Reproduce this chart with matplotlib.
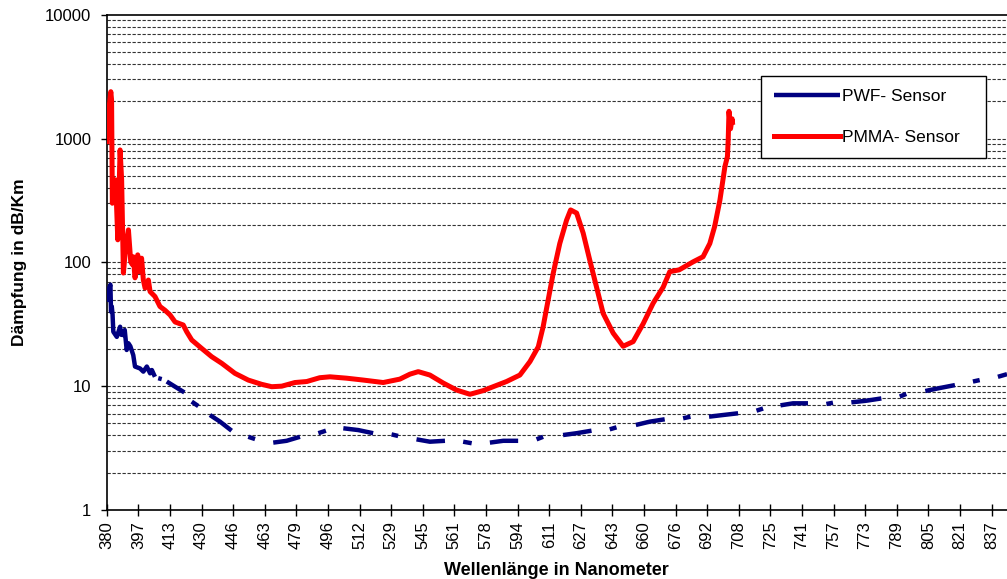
import numpy as np
import matplotlib
matplotlib.use("Agg")
import matplotlib.pyplot as plt

plt.rcParams["font.family"] = ["Liberation Sans", "DejaVu Sans"]

# PMMA sensor attenuation (nm, dB/km)
pmma_nm = [380.0, 380.3, 380.8, 382.1, 382.5, 382.9, 383.8, 384.6, 385.7, 386.9,
           387.7, 388.6, 389.8, 391.2, 392.4, 393.2, 393.7, 394.6, 395.5, 396.0,
           396.8, 398.0, 398.9, 399.8, 401.0, 401.5, 402.4, 404.9, 407.5, 410.1,
           412.7, 415.3, 419.5, 421.3, 423.9, 429.0, 434.2, 439.4, 446.2, 453.1,
           460.0, 465.2, 470.4, 477.2, 483.3, 490.0, 495.3, 503.9, 512.5, 522.8,
           531.4, 536.6, 540.9, 546.9, 553.8, 560.7, 567.6, 574.4, 579.6, 586.5,
           593.4, 598.6, 602.9, 605.4, 608.0, 610.6, 614.0, 617.5, 619.6, 622.7,
           626.1, 629.5, 633.0, 636.4, 641.6, 646.7, 651.9, 657.1, 662.2, 667.4,
           670.8, 675.7, 682.9, 688.0, 691.5, 694.0, 696.7, 699.3, 700.6, 701.0,
           701.4, 702.2, 703.0, 703.2]
pmma_db = [944, 1500, 1550, 2390, 2050, 300, 463, 463, 152, 809,
           463, 82, 134, 183, 101, 96, 111, 75, 90, 115,
           84, 108, 72, 62, 65, 72, 58, 53, 44, 41,
           37.6, 33, 31.2, 27.5, 23.6, 20.2, 17.3, 15.3, 12.7, 11.2,
           10.35, 9.9, 10.0, 10.7, 10.9, 11.7, 11.9, 11.6, 11.2, 10.7,
           11.4, 12.5, 13.1, 12.3, 10.6, 9.3, 8.6, 9.2, 9.9, 10.9,
           12.3, 15.8, 20.8, 30.2, 49.7, 81.5, 142, 219, 265, 250,
           172, 104, 63, 38.7, 26.8, 21, 22.9, 32, 46.7, 63,
           84, 87, 101, 111, 142, 195, 317, 594, 715, 975,
           1660, 1200, 1444, 1350]

# PWF sensor attenuation, NaN where no measurement was recorded
nan = np.nan
pwf_nm = [380.0, 380.6, 381.4, 381.9, 382.2, 382.6, 383.0, 383.4, 385.2, 386.9,
          387.5, 388.6, 389.3, 390.3, 391.2, 392.2, 393.7, 394.6, 397.2, 398.9,
          400.7, 402.4, 403.3, 404.9, nan, 406.6, 408.4, nan, 411.0, 415.3,
          420.1, nan, 423.9, 427.3, nan, 433.3, 438.5, 444.5, nan, 453.1,
          456.6, nan, 466.0, 472.9, 479.8, nan, 489.3, 493.2, nan, 502.2,
          509.9, 517.6, nan, 527.1, 530.5, nan, 540.0, 546.9, 554.7, nan,
          564.1, 568.5, nan, 577.9, 584.8, 592.5, nan, 602.0, 605.4, nan,
          615.7, 622.7, 630.4, nan, 639.8, 643.3, nan, 653.3, 660.5, 668.2,
          nan, 677.7, 681.5, nan, 691.1, 698.4, 706.1, nan, 715.6, 719.0,
          nan, 728.0, 734.5, 742.2, nan, 751.7, 755.1, nan, 764.6, 772.4,
          780.1, nan, 789.6, 793.0, nan, 802.8, 810.3, 818.1, nan, 827.4,
          830.9, nan, 840.3, 845.0]
pwf_db = [48, 55, 63, 66, 40, 44, 38, 27.5, 25, 30.2,
          26, 25.9, 28.4, 19.6, 22.2, 21, 17.8, 14.4, 13.9, 13.1,
          14.4, 12.7, 13.5, 11.9, nan, 11.6, 11.4, nan, 10.9, 9.9,
          8.9, nan, 7.5, 6.9, nan, 5.85, 5.17, 4.37, nan, 3.9,
          3.74, nan, 3.5, 3.62, 3.9, nan, 4.17, 4.37, nan, 4.57,
          4.42, 4.17, nan, 4.08, 3.96, nan, 3.72, 3.56, 3.62, nan,
          3.56, 3.46, nan, 3.5, 3.62, 3.62, nan, 3.72, 3.9, nan,
          4.03, 4.17, 4.37, nan, 4.48, 4.65, nan, 4.86, 5.17, 5.4,
          nan, 5.5, 5.67, nan, 5.67, 5.85, 6.04, nan, 6.34, 6.6,
          nan, 7.0, 7.27, 7.27, nan, 7.18, 7.35, nan, 7.4, 7.63,
          7.96, nan, 8.24, 8.66, nan, 9.14, 9.66, 10.2, nan, 10.9,
          11.2, nan, 11.9, 12.5]

x_labels = ["380", "397", "413", "430", "446", "463", "479", "496", "512", "529",
            "545", "561", "578", "594", "611", "627", "643", "660", "676", "692",
            "708", "725", "741", "757", "773", "789", "805", "821", "837"]
y_ticks = [1, 10, 100, 1000, 10000]

fig = plt.figure(figsize=(10.07, 5.79), dpi=100)
ax = fig.add_axes([0.106, 0.1192, 0.894, 0.8554])

ax.plot(pwf_nm, pwf_db, color="#000080", lw=3.2, solid_capstyle="butt",
        label="PWF- Sensor", zorder=3)
ax.plot(pmma_nm, pmma_db, color="#ff0000", lw=3.6, solid_joinstyle="round",
        label="PMMA- Sensor", zorder=4)

ax.set_yscale("log")
ax.set_ylim(1, 10000)
ax.set_xlim(380, 845)

# dashed lines at every decade step
grid_vals = [m * 10 ** e for e in range(0, 4) for m in range(1, 10)][1:]
for g in grid_vals:
    ax.axhline(g, color="#333333", lw=0.8, ls=(0, (3, 1.5)), zorder=1)

ax.set_yticks(y_ticks)
ax.set_yticklabels([str(v) for v in y_ticks])
ax.yaxis.set_minor_locator(matplotlib.ticker.NullLocator())
ax.set_xticks(np.linspace(380, 837, len(x_labels)))
ax.set_xticklabels(x_labels, rotation=90)

ax.tick_params(axis="y", direction="out", length=4, width=1, labelsize=12, pad=7)
ax.tick_params(axis="x", direction="inout", length=8, width=1, labelsize=12, pad=4)

for side in ["left", "bottom", "top"]:
    ax.spines[side].set_linewidth(1.2)
ax.spines["right"].set_visible(False)

ax.set_xlabel("Wellenlänge in Nanometer", fontsize=13, fontweight="bold", labelpad=9)
ax.set_ylabel("Dämpfung in dB/Km", fontsize=12.5, fontweight="bold", labelpad=13)

leg = ax.legend(loc="upper left", bbox_to_anchor=(0.7268, 0.876, 0.25, 0.0),
                mode="expand", fontsize=12.5, frameon=True, fancybox=False,
                borderpad=0.75, labelspacing=1.45, handlelength=3.8,
                handletextpad=0.1, borderaxespad=0)
leg.get_frame().set_edgecolor("black")
leg.get_frame().set_linewidth(1)
leg.get_frame().set_alpha(1)

fig.savefig("out.png", dpi=100)
